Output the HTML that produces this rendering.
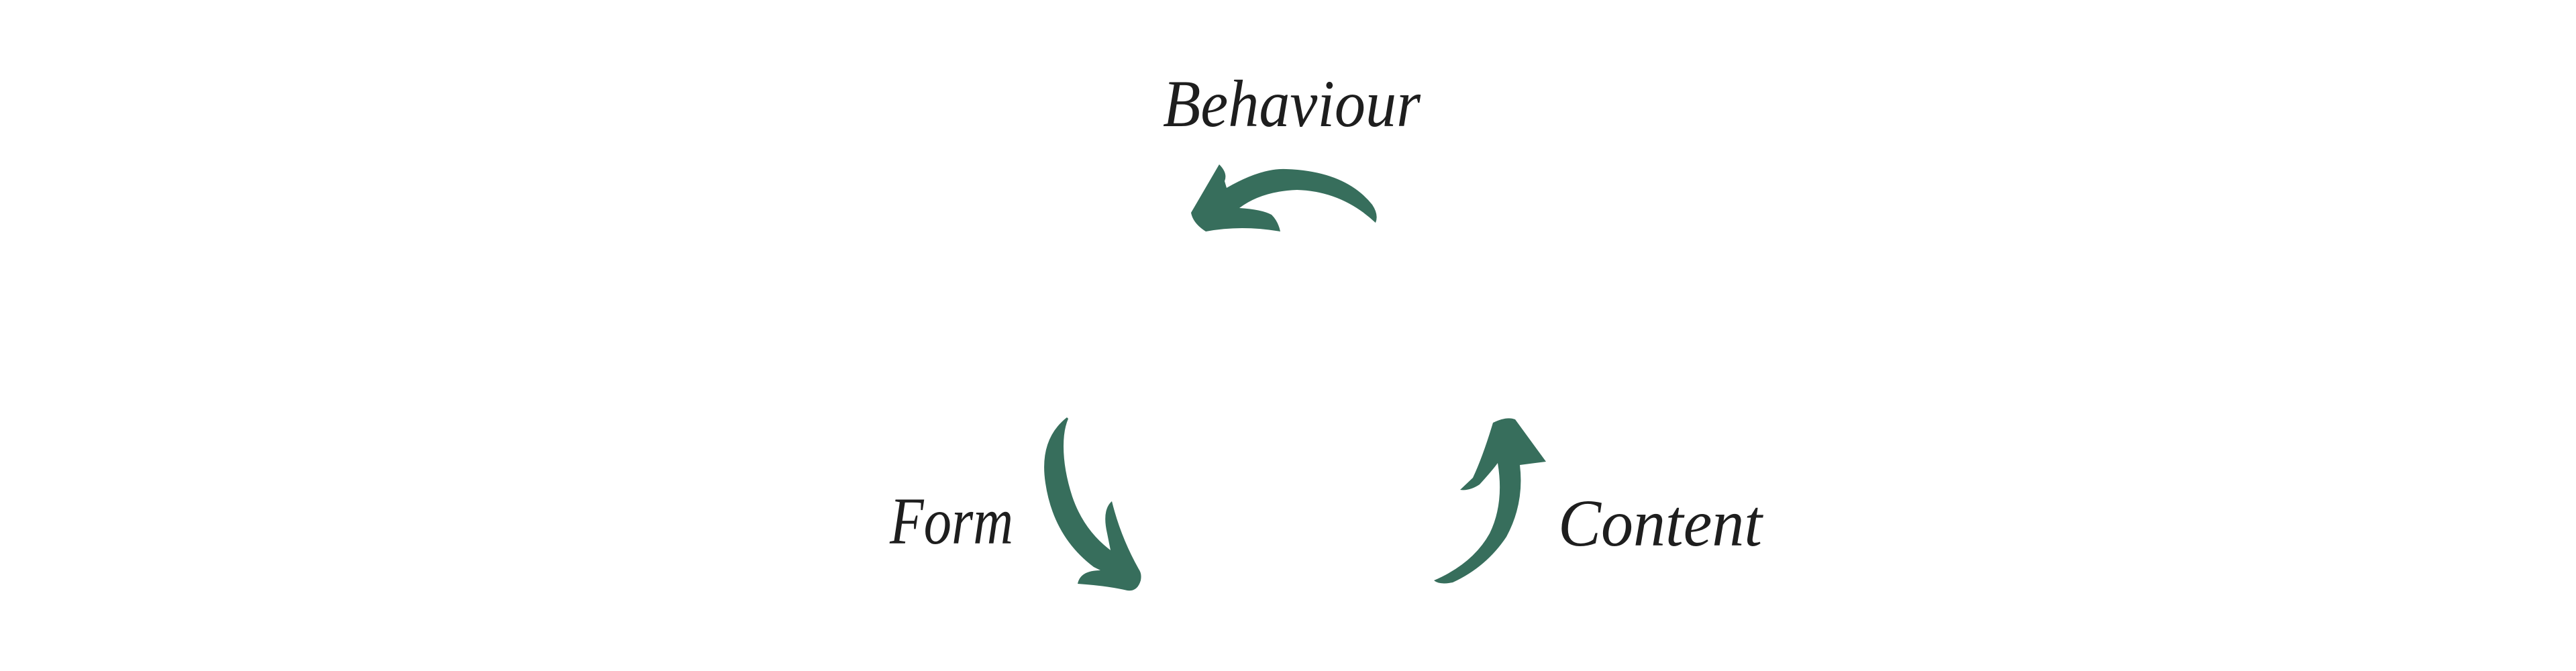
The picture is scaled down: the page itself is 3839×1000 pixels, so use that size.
<!DOCTYPE html>
<html><head><meta charset="utf-8"><style>
html,body{margin:0;padding:0;background:#fff;}
svg{display:block;}
text{font-family:"Liberation Serif",serif;font-style:italic;fill:#1e1e1e;}
</style></head><body>
<svg width="3839" height="1000" viewBox="0 0 3839 1000" xmlns="http://www.w3.org/2000/svg">
<rect width="3839" height="1000" fill="#fff"/>
<text x="1733" y="188" font-size="100" textLength="384" lengthAdjust="spacingAndGlyphs">Behaviour</text>
<text x="1326" y="810" font-size="100" textLength="184" lengthAdjust="spacingAndGlyphs">Form</text>
<text x="2322" y="813" font-size="100" textLength="304" lengthAdjust="spacingAndGlyphs">Content</text>
<g fill="#376e5c">
<path d="M1775,317 L1817,245 Q1830,258 1825,270 L1828,280 Q1880,250 1917,252 Q2005,255 2045,305 Q2055,320 2050,332 Q2000,285 1933,283 Q1880,285 1847,310 Q1880,312 1895,320 Q1905,330 1908,345 Q1850,335 1797,345 Q1778,333 1775,317 Z"/>
<path d="M1590,622 Q1548,655 1558,720 Q1570,800 1630,845 L1640,850 Q1610,850 1606,870 Q1650,873 1680,880 Q1695,882 1700,865 Q1702,855 1697,848 Q1670,800 1657,747 Q1642,760 1650,795 L1655,820 Q1615,790 1598,740 Q1585,700 1585,665 Q1585,640 1592,624 Z"/>
<path d="M2137,865 Q2145,872 2165,868 Q2215,845 2245,800 Q2272,750 2265,693 L2304,688 L2258,625 Q2245,620 2225,630 Q2210,680 2195,712 L2176,730 Q2190,732 2205,722 Q2225,700 2232,690 Q2242,750 2220,795 Q2195,840 2137,865 Z"/>
</g>
</svg>
</body></html>
